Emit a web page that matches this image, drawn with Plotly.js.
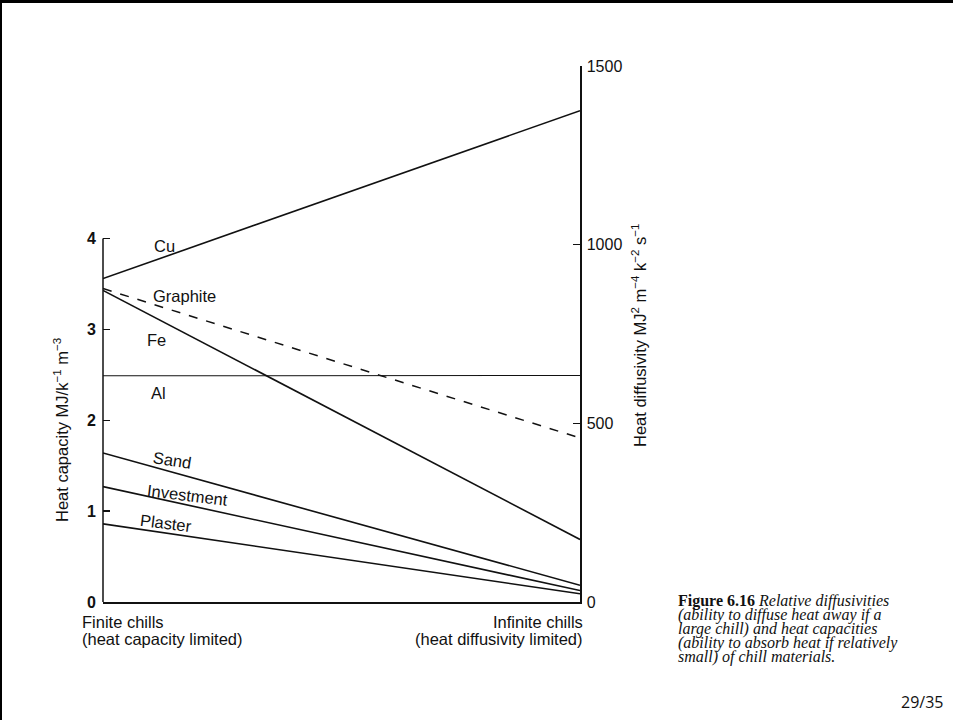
<!DOCTYPE html>
<html>
<head>
<meta charset="utf-8">
<script src="https://cdn.plot.ly/plotly-3.0.1.min.js"></script>
<style>
  html, body { margin: 0; padding: 0; background: #fff; }
  #wrap { position: relative; width: 953px; height: 720px; }
  #chart { width: 953px; height: 720px; }
  #frame { position: absolute; left: 0; top: 0; width: 951px; height: 717px;
           border-top: 3px solid #000; border-left: 2px solid #000; pointer-events: none; }
</style>
</head>
<body>
<div id="wrap">
  <div id="chart"></div>
  <div id="frame"></div>
</div>
<script>
// ---- data ----
var materials = ["Cu", "Graphite", "Fe", "Al", "Sand", "Investment", "Plaster"];
// heat capacity, MJ/k^-1 m^-3 (left end, "Finite chills")
var heatCapacity = [3.56, 3.45, 3.43, 2.49, 1.64, 1.27, 0.86];
// heat diffusivity, MJ^2 m^-4 k^-2 s^-1 (right end, "Infinite chills")
var heatDiffusivity = [1375, 459, 175, 634, 47, 32, 23];
var lineDash = ["solid", "dash", "solid", "solid", "solid", "solid", "solid"];
var lineWidth = [1.6, 1.5, 1.6, 1.1, 1.6, 1.6, 1.6];
var leftTicks = [0, 1, 2, 3, 4];
var rightTicks = [0, 500, 1000, 1500];
var leftEndLabel = ["Finite chills", "(heat capacity limited)"];
var rightEndLabel = ["Infinite chills", "(heat diffusivity limited)"];
var captionLines = [
  "<b>Figure 6.16</b> <i>Relative diffusivities</i>",
  "<i>(ability to diffuse heat away if a</i>",
  "<i>large chill) and heat capacities</i>",
  "<i>(ability to absorb heat if relatively</i>",
  "<i>small) of chill materials.</i>"
];
var pageLabel = "29/35";

// ---- scales ----
var leftMax = 5.9;      // left axis range that lines up with 0..1500 on the right
var rightMax = 1500;
var k = leftMax / rightMax;

var W = 953, H = 720, mL = 103, mR = 373, mT = 66, mB = 118;
var pw = W - mL - mR, ph = H - mT - mB;
function px(x) { return (x - mL) / pw; }
function py(y) { return (H - mB - y) / ph; }

var traces = materials.map(function (m, i) {
  return {
    x: [0, 1],
    y: [heatCapacity[i], heatDiffusivity[i] * k],
    mode: "lines",
    name: m,
    line: { color: "#111", width: lineWidth[i], dash: lineDash[i] },
    hoverinfo: "name",
    showlegend: false
  };
});
// invisible trace to activate right axis
traces.push({ x: [1], y: [0], yaxis: "y2", mode: "markers", marker: { opacity: 0 }, showlegend: false, hoverinfo: "skip" });

var font = "Liberation Sans, Arial, sans-serif";
var serif = "Liberation Serif, Times New Roman, serif";
var fs = 16.5;

var labelPos = [
  { x: 164, y: 246, a: 0 },
  { x: 184, y: 296, a: 0 },
  { x: 156, y: 340, a: 0 },
  { x: 158, y: 393, a: 0 },
  { x: 172, y: 460, a: 9 },
  { x: 187, y: 495, a: 7 },
  { x: 166, y: 523, a: 7 }
];

var annotations = labelPos.map(function (l, i) {
  return { text: materials[i], x: px(l.x), y: py(l.y), xref: "paper", yref: "paper",
           xanchor: "center", yanchor: "middle",
           showarrow: false, textangle: l.a, font: { family: font, size: fs, color: "#111" } };
});
var endY = [622, 639];
leftEndLabel.forEach(function (t, i) {
  annotations.push({ text: t, x: px(80), y: py(endY[i]), xref: "paper", yref: "paper",
    xanchor: "left", yanchor: "middle", showarrow: false, font: { family: font, size: fs, color: "#111" } });
});
rightEndLabel.forEach(function (t, i) {
  annotations.push({ text: t, x: px(585), y: py(endY[i]), xref: "paper", yref: "paper",
    xanchor: "right", yanchor: "middle", showarrow: false, font: { family: font, size: fs, color: "#111" } });
});
annotations.push({ text: "Heat capacity MJ/k<sup>−1</sup> m<sup>−3</sup>", x: px(61), y: py(430), xref: "paper", yref: "paper",
  xanchor: "center", yanchor: "middle",
  textangle: -90, showarrow: false, font: { family: font, size: fs, color: "#111" } });
annotations.push({ text: "Heat diffusivity MJ<sup>2</sup> m<sup>−4</sup> k<sup>−2</sup> s<sup>−1</sup>", x: px(639), y: py(335),
  xref: "paper", yref: "paper", xanchor: "center", yanchor: "middle",
  textangle: -90, showarrow: false, font: { family: font, size: fs, color: "#111" } });
var capY = [601, 615, 629, 643, 657];
captionLines.forEach(function (t, i) {
  annotations.push({ text: t, x: px(676), y: py(capY[i]), xref: "paper", yref: "paper",
    xanchor: "left", yanchor: "middle", align: "left", showarrow: false,
    font: { family: serif, size: 16, color: "#111" } });
});
annotations.push({ text: pageLabel, x: px(945), y: py(702), xref: "paper", yref: "paper",
  xanchor: "right", yanchor: "middle", showarrow: false, font: { family: "Open Sans, sans-serif", size: 16, color: "#111" } });

var layout = {
  width: W, height: H,
  margin: { l: mL, r: mR, t: mT, b: mB, pad: 0 },
  paper_bgcolor: "#fff", plot_bgcolor: "#fff",
  showlegend: false,
  xaxis: { range: [0, 1], showline: true, linecolor: "#111", linewidth: 1.5, showticklabels: false,
           ticks: "", showgrid: false, zeroline: false, fixedrange: true },
  yaxis: { range: [0, leftMax], tickvals: leftTicks, ticks: "inside", ticklen: 7, tickwidth: 1.5, tickcolor: "#111",
           ticklabelstandoff: 6,
           showline: false, showgrid: false, zeroline: false, fixedrange: true,
           tickfont: { family: font, size: 16, color: "#111", weight: "bold" } },
  yaxis2: { range: [0, rightMax], overlaying: "y", side: "right", tickvals: rightTicks, ticks: "inside", ticklen: 7,
            tickwidth: 1.5, tickcolor: "#111", showline: true, linecolor: "#111", linewidth: 1.5,
            ticklabelstandoff: 2,
            showgrid: false, zeroline: false, fixedrange: true,
            tickfont: { family: font, size: 16, color: "#111" } },
  shapes: [
    { type: "line", xref: "paper", yref: "y", x0: 0, x1: 0, y0: 0, y1: leftTicks[leftTicks.length - 1],
      line: { color: "#111", width: 1.5 } }
  ],
  annotations: annotations
};

Plotly.newPlot("chart", traces, layout, { displayModeBar: false, staticPlot: true });
</script>
</body>
</html>
